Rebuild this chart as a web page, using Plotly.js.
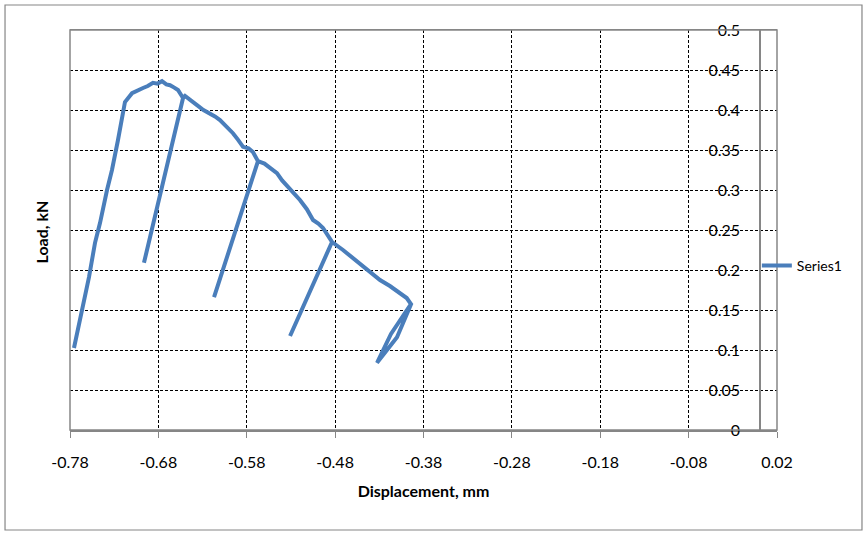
<!DOCTYPE html>
<html>
<head>
<meta charset="utf-8">
<script src="https://cdn.plot.ly/plotly-3.0.1.min.js"></script>
<style>
html,body{margin:0;padding:0;background:#fff;}
#chart{width:868px;height:537px;}
</style>
</head>
<body>
<div id="chart"></div>
<script>
// Displacement (mm) and load (kN), in drawing order
const displacement = [
  -0.7755, -0.7664, -0.7585, -0.7517, -0.746, -0.7381, -0.7325, -0.7257, -0.7178,
  -0.7098, -0.7030, -0.6974, -0.6920, -0.6861, -0.6810, -0.6759, -0.6710, -0.6668, -0.6620, -0.6578, -0.6521,
  -0.6963, -0.6521,
  -0.6499, -0.6430, -0.6363, -0.6290, -0.6216, -0.6160, -0.6103, -0.6030, -0.5956, -0.5900, -0.5842, -0.5780, -0.5730, -0.5673,
  -0.6170, -0.5673,
  -0.5600, -0.5458, -0.5400, -0.5333, -0.5270, -0.5198, -0.5120, -0.5050, -0.4990, -0.4937, -0.4835,
  -0.5310, -0.4835,
  -0.4711, -0.4600, -0.4485, -0.4390, -0.4292, -0.4180, -0.4066, -0.3990, -0.3942,
  -0.4168, -0.4326, -0.4100, -0.3940
];
const load = [
  0.1025, 0.150, 0.191, 0.234, 0.259, 0.300, 0.325, 0.3625, 0.410,
  0.421, 0.425, 0.4275, 0.430, 0.434, 0.433, 0.436, 0.432, 0.431, 0.428, 0.425, 0.415,
  0.209, 0.415,
  0.4175, 0.411, 0.406, 0.400, 0.396, 0.392, 0.3875, 0.380, 0.371, 0.363, 0.354, 0.352, 0.3475, 0.336,
  0.166, 0.336,
  0.333, 0.321, 0.312, 0.304, 0.297, 0.2875, 0.276, 0.2625, 0.258, 0.2525, 0.235,
  0.1175, 0.235,
  0.225, 0.215, 0.204, 0.195, 0.1875, 0.180, 0.171, 0.165, 0.1575,
  0.120, 0.084, 0.116, 0.1575
];
const seriesName = "Series1";
const xTicks = [-0.78, -0.68, -0.58, -0.48, -0.38, -0.28, -0.18, -0.08, 0.02];
const yTicks = [0, 0.05, 0.1, 0.15, 0.2, 0.25, 0.3, 0.35, 0.4, 0.45, 0.5];

const FONT = "Lato, 'Open Sans', sans-serif";
const GRAY = "#868686";

const trace = {
  x: displacement, y: load, type: "scatter", mode: "lines", name: seriesName,
  line: {color: "#4a7ebb", width: 4},
  showlegend: true
};

const layout = {
  width: 868, height: 537,
  margin: {l: 70, r: 91, t: 30, b: 107},
  paper_bgcolor: "#fff", plot_bgcolor: "#fff",
  font: {family: FONT, size: 16, color: "#000"},
  showlegend: true,
  legend: {x: 0.9715, xanchor: "left", y: 0.41, yanchor: "middle",
           font: {family: FONT, size: 14, color: "#000"}, bgcolor: "rgba(0,0,0,0)"},
  xaxis: {
    range: [-0.78, 0.02], tickvals: xTicks, ticktext: xTicks.map(v => v.toFixed(2)),
    showgrid: true, gridcolor: "#000", gridwidth: 1, griddash: "3px,2px",
    zeroline: false, showline: true, linecolor: GRAY, linewidth: 1.5, mirror: true,
    ticks: "outside", ticklen: 6, tickcolor: GRAY, tickwidth: 1,
    ticklabelstandoff: 11,
    tickfont: {family: FONT, size: 16},
    title: {text: "<b>Displacement, mm</b>", font: {family: FONT, size: 16}, standoff: 16}
  },
  yaxis: {
    range: [0, 0.5], tickvals: yTicks, ticktext: yTicks.map(v => String(v)),
    anchor: "free", position: 0.975, side: "left",
    showgrid: true, gridcolor: "#000", gridwidth: 1, griddash: "3px,2px",
    zeroline: false, showline: true, linecolor: GRAY, linewidth: 1.5,
    ticks: "", ticklabelstandoff: 16,
    tickfont: {family: FONT, size: 16}
  },
  shapes: [
    {type: "rect", xref: "paper", yref: "paper", x0: 0, x1: 1, y0: 0, y1: 1,
     line: {color: GRAY, width: 1.5}, layer: "above"},
    {type: "rect", xref: "paper", yref: "paper", x0: -0.0919, x1: 1.1202, y0: -0.25, y1: 1.0625,
     line: {color: GRAY, width: 1.2}}
  ],
  annotations: [
    {text: "<b>Load, kN</b>", xref: "paper", yref: "paper", x: -0.0566, y: 0.495,
     textangle: -90, showarrow: false, font: {family: FONT, size: 16}}
  ]
};

Plotly.newPlot("chart", [trace], layout, {displayModeBar: false, staticPlot: true});
</script>
</body>
</html>
